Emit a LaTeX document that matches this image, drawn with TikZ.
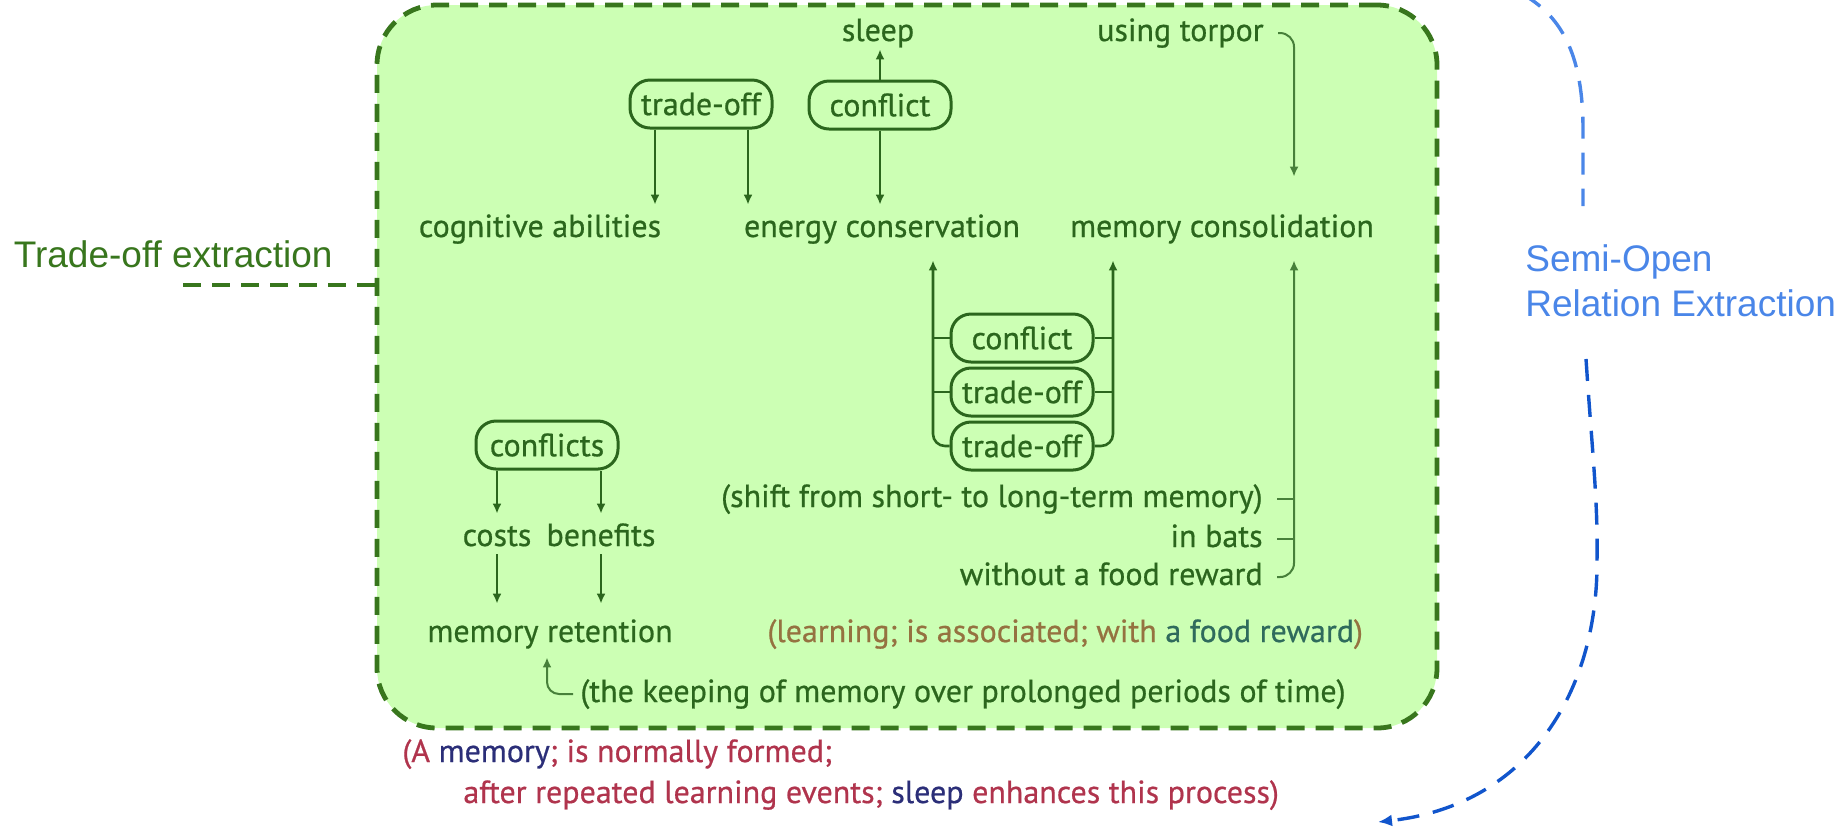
\documentclass[tikz,border=0pt]{standalone}
\usepackage{fontspec}
\setmainfont{PT Sans}[FakeBold=0.6]
\newfontfamily\arialfont{Liberation Sans}
\usetikzlibrary{positioning,arrows.meta}
\definecolor{boxgreen}{HTML}{38761D}
\definecolor{boxfill}{HTML}{CCFFB4}
\definecolor{txtgreen}{HTML}{2B661D}
\definecolor{hookgreen}{HTML}{47803A}
\definecolor{semiblue}{HTML}{4A86E8}
\definecolor{deepblue}{HTML}{1155CC}
\definecolor{tuplered}{HTML}{B0344D}
\definecolor{tuplenavy}{HTML}{2B2E78}
\definecolor{tuplebrown}{HTML}{957240}
\definecolor{tupleteal}{HTML}{2F6B5C}
\newcommand{\innerfont}{\fontsize{16pt}{19pt}\selectfont}
\newcommand{\sidefont}{\arialfont\fontsize{18.5pt}{22.5pt}\selectfont}
\tikzstyle{frame} = [draw=boxgreen,fill=boxfill,line width=2.4pt,dash pattern=on 9pt off 5.5pt,
    rounded corners=30pt,minimum width=530pt,minimum height=361.5pt]
\tikzstyle{frameline} = [draw=boxgreen,line width=2.4pt,dash pattern=on 9pt off 5.5pt]
\tikzstyle{side} = [inner sep=0pt,font=\sidefont]
\tikzstyle{lbl} = [inner sep=0pt,text height=12pt,text depth=4pt,text=txtgreen,font=\innerfont]
\tikzstyle{rel} = [draw=txtgreen,line width=1.5pt,rounded corners=10pt,minimum width=71pt,
    minimum height=24pt,inner sep=0pt,text=txtgreen,font=\innerfont]
\tikzstyle{ln} = [draw=txtgreen,line width=1.3pt]
\tikzstyle{arr} = [ln,-{Latex[length=5pt,width=4.5pt]}]
\tikzstyle{hookarr} = [draw=hookgreen,line width=1pt,-{Latex[length=5pt,width=4.5pt]}]
\tikzstyle{hookln} = [draw=hookgreen,line width=1pt]
\tikzstyle{semiline} = [line width=1.7pt,dash pattern=on 11pt off 7pt]
\newcommand{\bracketticks}[1]{
    \draw[ln] (#1.west) -- (933,0 |- #1.west);
    \draw[ln] (#1.east) -- (1113,0 |- #1.east);
}
\begin{document}
\begin{tikzpicture}[x=0.5pt,y=-0.5pt]
	\useasboundingbox (0,0) rectangle (1839,827);
	\node(tbox) at (907,366.5) [frame] {};
	
	\node(sleep) at (878,41) [lbl, anchor=base] {sleep};
	\node(torpor) at (1264,41) [lbl, anchor=base east] {using torpor};
	\node(tradeA) at (701,104) [rel] {trade-off};
	\node(conflA) at (880,105) [rel] {conflict};
	\node(cogn) at (540,237) [lbl, anchor=base] {cognitive abilities};
	\node(energy) at (882,237) [lbl, anchor=base] {energy conservation};
	\node(memcon) at (1222,237) [lbl, anchor=base] {memory consolidation};
	
	\draw[arr] (conflA.north) -- (conflA.north |- sleep.south);
	\draw[arr, shorten >=4pt] (655,0 |- tradeA.south) -- (655,0 |- cogn.north);
	\draw[arr, shorten >=4pt] (748,0 |- tradeA.south) -- (748,0 |- energy.north);
	\draw[arr, shorten >=4pt] (conflA.south) -- (conflA.south |- energy.north);
	\draw[hookarr, rounded corners=7pt, shorten >=18pt] ([xshift=7pt]torpor.east) -| (1294,0 |- memcon.north);
	
	\node(conflB) at (1022,338) [rel] {conflict};
	\node(tradeB) [rel, below=1.5pt of conflB] {trade-off};
	\node(tradeC) [rel, below=1.5pt of tradeB] {trade-off};
	\bracketticks{conflB};
	\bracketticks{tradeB};
	\draw[arr, rounded corners=6pt, shorten >=7.5pt] (tradeC.west) -| (933,0 |- energy.south);
	\draw[arr, rounded corners=6pt, shorten >=7.5pt] (tradeC.east) -| (1113,0 |- memcon.south);
	
	\node(shift) at (1263,507) [lbl, anchor=base east] {(shift from short- to long-term memory)};
	\node(bats) at (1263,547) [lbl, anchor=base east] {in bats};
	\node(nofood) at (1263,585) [lbl, anchor=base east] {without a food reward};
	\draw[hookln] ([xshift=7pt]shift.east) -- (1294,0 |- shift.east);
	\draw[hookln] ([xshift=7pt]bats.east) -- (1294,0 |- bats.east);
	\draw[hookarr, rounded corners=7pt, shorten >=7.5pt] ([xshift=7pt]nofood.east) -| (1294,0 |- memcon.south);
	
	\node(confls) at (547,445) [rel] {conflicts};
	\node(costs) at (497,546) [lbl, anchor=base] {costs};
	\node(benef) at (601,546) [lbl, anchor=base] {benefits};
	\node(memret) at (550,642) [lbl, anchor=base] {memory retention};
	\draw[arr, shorten >=4pt] (costs.north |- confls.south) -- (costs.north);
	\draw[arr, shorten >=4pt] (benef.north |- confls.south) -- (benef.north);
	\draw[arr, shorten >=7pt] (costs.south) -- (costs.south |- memret.north);
	\draw[arr, shorten >=7pt] (benef.south) -- (benef.south |- memret.north);
	
	\node(keep) at (580,702) [lbl, anchor=base west] {(the keeping of memory over prolonged periods of time)};
	\draw[hookarr, rounded corners=6pt, shorten >=3.5pt] ([xshift=-3.5pt]keep.west) -| (547,0 |- memret.south);
	\node(learn) at (767,642) [lbl, anchor=base west, text=tuplebrown] {(learning; is associated; with \textcolor{tupleteal}{a food reward})};
	
	\node(tupA) at (402,762) [lbl, anchor=base west, text=tuplered] {(A \textcolor{tuplenavy}{memory}; is normally formed;};
	\node(tupB) at (463,803) [lbl, anchor=base west, text=tuplered] {after repeated learning events; \textcolor{tuplenavy}{sleep} enhances this process)};
	
	\node(tox) at (333,267) [side, anchor=base east, text=boxgreen] {Trade-off extraction};
	\coordinate (toxend) at (183,285);
	\draw[frameline] (toxend) -- (toxend -| tbox.west);
	
	\node(sore) at (1525,244) [side, anchor=north west, align=left, text=semiblue] {Semi-Open\\Relation Extraction};
	\coordinate (arcin) at (1522,-6);
	\coordinate (arcout) at (1378,822);
	\draw[semiline, draw=semiblue, shorten >=19pt] (arcin) .. controls (1570,20) and (1583,70) .. (1583,130) -- (1583,0 |- sore.north);
	\draw[semiline, draw=deepblue, -{Latex[length=7pt,width=6pt]}] (1586,0 |- sore.south) ++(0,42) .. controls (1592,450) and (1598,500) .. (1597,560) .. controls (1598,690) and (1530,805) .. (arcout);
\end{tikzpicture}
\end{document}
